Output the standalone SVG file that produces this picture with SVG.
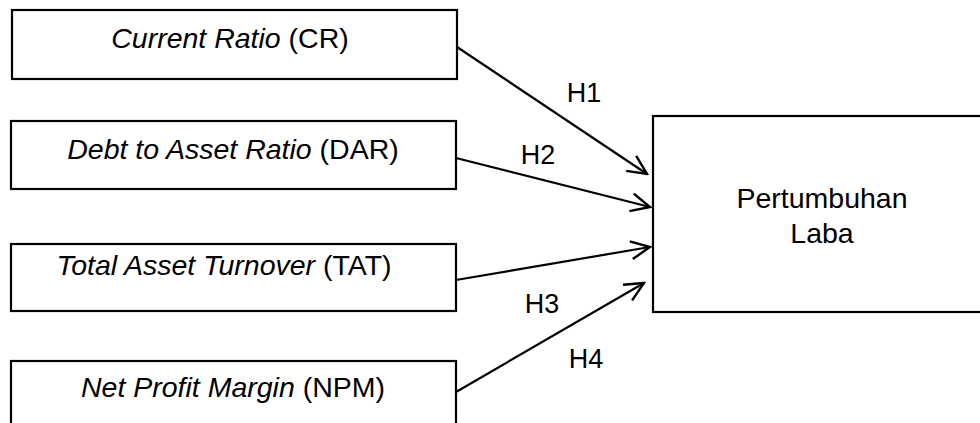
<svg xmlns="http://www.w3.org/2000/svg" width="980" height="423" viewBox="0 0 980 423">
<defs>
<style>
.box{fill:#fff;stroke:#000;stroke-width:2.2}
.t{font-family:"Liberation Sans",Arial,sans-serif;font-size:28.5px;fill:#000;text-anchor:middle}
.lb{font-family:"Liberation Sans",Arial,sans-serif;font-size:27px;fill:#000;text-anchor:middle}
.c{stroke:#000;stroke-width:2.2;fill:none;marker-end:url(#ah)}
</style>
<marker id="ah" markerUnits="userSpaceOnUse" markerWidth="24" markerHeight="24" viewBox="-22 -12 24 24" refX="0" refY="0" orient="auto">
<path d="M -19 -9 L 0 0 L -19 9" fill="none" stroke="#000" stroke-width="2.4"/>
</marker>
</defs>
<rect width="980" height="423" fill="#fff"/>
<g id="cr">
<rect class="box" x="12" y="10" width="445" height="69"/>
<text class="t" x="230" y="48"><tspan font-style="italic">Current Ratio</tspan> (CR)</text>
</g>
<g id="dar">
<rect class="box" x="11" y="121" width="445" height="68"/>
<text class="t" x="233" y="159"><tspan font-style="italic">Debt to Asset Ratio</tspan> (DAR)</text>
</g>
<g id="tat">
<rect class="box" x="11" y="244" width="445" height="67"/>
<text class="t" x="224" y="275"><tspan font-style="italic">Total Asset Turnover</tspan> (TAT)</text>
</g>
<g id="npm">
<rect class="box" x="11" y="361" width="445" height="80"/>
<text class="t" x="233" y="397"><tspan font-style="italic">Net Profit Margin</tspan> (NPM)</text>
</g>
<g id="pl">
<rect class="box" x="653" y="116" width="340" height="196"/>
<text class="t" x="822" y="208" font-size="29">Pertumbuhan</text>
<text class="t" x="822" y="243" font-size="29">Laba</text>
</g>
<g id="connectors">
<line class="c" x1="457" y1="47" x2="647" y2="174"/>
<line class="c" x1="456" y1="158" x2="650" y2="207"/>
<line class="c" x1="456" y1="280" x2="650" y2="247"/>
<line class="c" x1="456" y1="392" x2="644" y2="283"/>
<text class="lb" x="584" y="102">H1</text>
<text class="lb" x="538" y="164">H2</text>
<text class="lb" x="542" y="313">H3</text>
<text class="lb" x="586" y="368">H4</text>
</g>
</svg>
